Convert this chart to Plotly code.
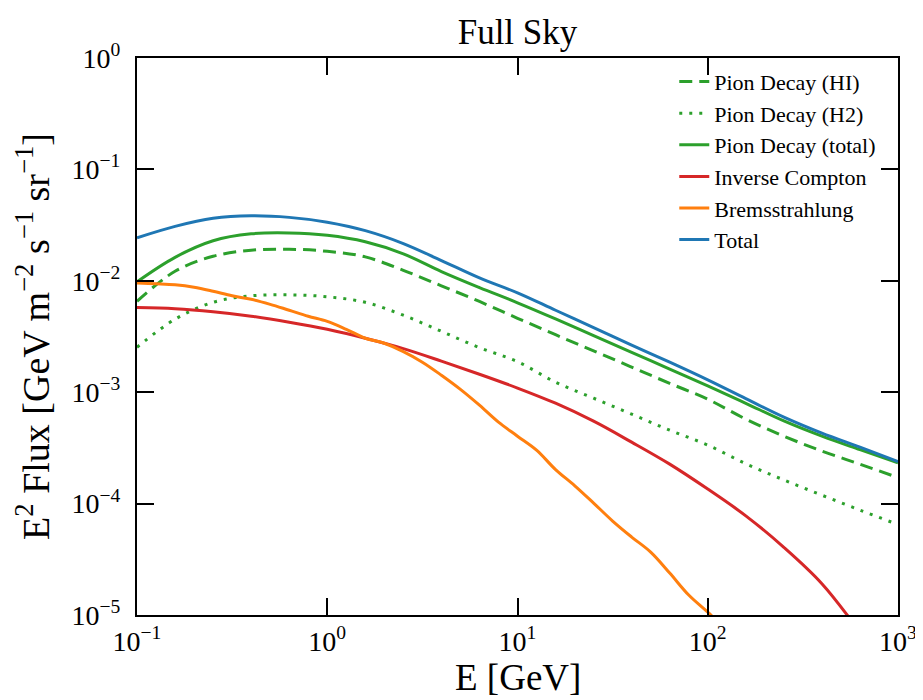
import plotly.graph_objects as go

# Energy grid (GeV) for the smooth components
energy = [0.1, 0.1585, 0.2512, 0.3981, 0.631, 1.0, 1.585, 2.512, 3.981, 6.31,
          10.0, 15.85, 25.12, 39.81, 63.1, 100.0, 158.5, 251.2, 398.1, 631.0, 1000.0]

pion_hi = [0.00655, 0.01217, 0.0166, 0.0188, 0.0192, 0.0184, 0.0164, 0.01242, 0.00902, 0.00652,
           0.00461, 0.00328, 0.00235, 0.00168, 0.00120, 0.000865, 0.000573, 0.000403, 0.000296, 0.000226, 0.000171]
pion_h2 = [0.00253, 0.00452, 0.00641, 0.00733, 0.00748, 0.00719, 0.00641, 0.00491, 0.00352, 0.00251,
           0.00188, 0.00123, 0.000883, 0.000635, 0.000456, 0.000335, 0.000228, 0.000163, 0.000119, 8.75e-5, 6.48e-5]
pion_total = [0.0098, 0.01625, 0.0229, 0.0264, 0.0269, 0.0256, 0.0224, 0.01746, 0.0121, 0.00869,
              0.00635, 0.00455, 0.00322, 0.00228, 0.00161, 0.00114, 0.000795, 0.000552, 0.000403, 0.000305, 0.000232]
inverse_compton = [0.00575, 0.00561, 0.00527, 0.00481, 0.00425, 0.00367, 0.00305, 0.00246, 0.00190, 0.00145,
                   0.00109, 0.000796, 0.000549, 0.000356, 0.000226, 0.000135, 7.76e-5, 4.05e-5, 1.91e-5, 7.0e-6, None]
total = [0.0243, 0.0308, 0.0364, 0.0383, 0.0371, 0.0336, 0.0282, 0.0216, 0.0152, 0.0106,
         0.0078, 0.00544, 0.00380, 0.00265, 0.00186, 0.00129, 0.000875, 0.000597, 0.000429, 0.000321, 0.000238]

# Finer grid for Bremsstrahlung
energy_brems = [0.1, 0.1259, 0.1585, 0.1995, 0.2512, 0.3162, 0.3981, 0.5012, 0.631, 0.7943,
                1.0, 1.259, 1.585, 1.995, 2.512, 3.162, 3.981, 5.012, 6.31, 7.943,
                10.0, 12.59, 15.85, 19.95, 25.12, 31.62, 39.81, 50.12, 63.1, 79.43, 100.0, 125.9]
bremsstrahlung = [0.00955, 0.0094, 0.0092, 0.00875, 0.00805, 0.00733, 0.00682, 0.00615, 0.00544, 0.00481,
                  0.00433, 0.00367, 0.00305, 0.00275, 0.00231, 0.00186, 0.00142, 0.00106, 0.000764, 0.000538,
                  0.000403, 0.000302, 0.000202, 0.000145, 0.000101, 6.97e-5, 5.01e-5, 3.67e-5, 2.38e-5, 1.51e-5,
                  1.06e-5, 7.3e-6]

x_tickvals = [0.1, 1, 10, 100, 1000]
x_ticktext = ["10<sup>−1</sup>", "10<sup>0</sup>", "10<sup>1</sup>", "10<sup>2</sup>", "10<sup>3</sup>"]
y_tickvals = [1e-5, 1e-4, 1e-3, 1e-2, 1e-1, 1]
y_ticktext = ["10<sup>−5</sup>", "10<sup>−4</sup>", "10<sup>−3</sup>", "10<sup>−2</sup>", "10<sup>−1</sup>", "10<sup>0</sup>"]

GREEN = "#2ca02c"
RED = "#d62728"
ORANGE = "#ff7f0e"
BLUE = "#1f77b4"
FONT = "Liberation Serif, Times New Roman, serif"
LW = 3

fig = go.Figure()
series = [
    ("Pion Decay (HI)", energy, pion_hi, GREEN, "13px,7px"),
    ("Pion Decay (H2)", energy, pion_h2, GREEN, "3px,7px"),
    ("Pion Decay (total)", energy, pion_total, GREEN, "solid"),
    ("Inverse Compton", energy, inverse_compton, RED, "solid"),
    ("Bremsstrahlung", energy_brems, bremsstrahlung, ORANGE, "solid"),
    ("Total", energy, total, BLUE, "solid"),
]
for name, xs, ys, col, dash in series:
    fig.add_trace(go.Scatter(
        x=xs, y=ys, name=name, mode="lines", legendgroup=name,
        line=dict(color=col, width=LW, dash=dash, shape="spline", smoothing=1.0),
    ))

axis_common = dict(
    type="log", showline=True, linecolor="black", linewidth=2, mirror="ticks",
    ticks="inside", ticklen=17, tickwidth=2, tickcolor="black", showgrid=False,
    zeroline=False, automargin=False,
    tickfont=dict(family=FONT, size=28, color="black"),
)

fig.update_layout(
    width=915, height=692,
    margin=dict(l=129, r=25, t=50, b=85),
    paper_bgcolor="white", plot_bgcolor="white",
    font=dict(family=FONT, color="black"),
    title=dict(text="Full Sky", xref="paper", x=0.5, xanchor="center",
               yref="container", y=0.965, yanchor="middle", automargin=False,
               font=dict(family=FONT, size=35, color="black")),
    xaxis=dict(**axis_common, range=[-1, 3], tickvals=x_tickvals, ticktext=x_ticktext),
    yaxis=dict(**axis_common, range=[-5, 0], tickvals=y_tickvals, ticktext=y_ticktext,
               ticklabelstandoff=9,
               title=dict(text="E<sup>2</sup> Flux [GeV m<sup>−2</sup> s<sup>−1</sup> sr<sup>−1</sup>]",
                          font=dict(family=FONT, size=38), standoff=10)),
    legend=dict(x=0.706, y=0.995, xanchor="left", yanchor="top", bgcolor="rgba(0,0,0,0)",
                font=dict(family=FONT, size=22, color="black"), tracegroupgap=0,
                traceorder="grouped"),
    showlegend=True,
    annotations=[dict(text="E [GeV]", xref="paper", yref="paper", x=0.5, y=-0.113,
                      xanchor="center", yanchor="middle", showarrow=False,
                      font=dict(family=FONT, size=37, color="black"))],
)

fig.write_html("out.html")
